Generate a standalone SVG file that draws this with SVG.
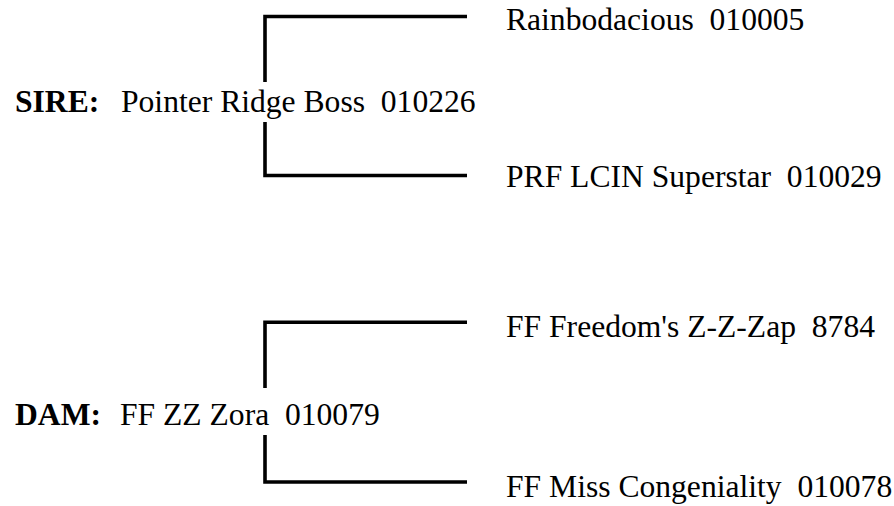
<svg xmlns="http://www.w3.org/2000/svg" width="894" height="506" viewBox="0 0 894 506">
<style>
text{font-family:"Liberation Serif","Times New Roman",serif;font-size:31.6px;fill:#000;white-space:pre}
.b{font-weight:bold}
.ln{fill:none;stroke:#000;stroke-width:3.6;stroke-linejoin:miter;stroke-linecap:butt}
</style>
<rect width="894" height="506" fill="#fff"/>
<g id="connectors">
<polyline class="ln" points="467,16.5 265,16.5 265,82"/>
<polyline class="ln" points="265,122 265,175.5 467,175.5"/>
<polyline class="ln" points="467,322.3 265,322.3 265,388"/>
<polyline class="ln" points="265,435 265,482 467,482"/>
</g>
<g id="sire"><text x="15" y="112" class="b">SIRE:</text><text x="121" y="112" xml:space="preserve">Pointer Ridge Boss  010226</text></g>
<g id="sire-sire"><text x="506" y="30" xml:space="preserve">Rainbodacious  010005</text></g>
<g id="sire-dam"><text x="506" y="187" xml:space="preserve">PRF LCIN Superstar  010029</text></g>
<g id="dam"><text x="15" y="425" class="b">DAM:</text><text x="120" y="425" xml:space="preserve">FF ZZ Zora  010079</text></g>
<g id="dam-sire"><text x="506" y="337" xml:space="preserve">FF Freedom's Z-Z-Zap  8784</text></g>
<g id="dam-dam"><text x="506" y="497" xml:space="preserve">FF Miss Congeniality  010078</text></g>
</svg>
